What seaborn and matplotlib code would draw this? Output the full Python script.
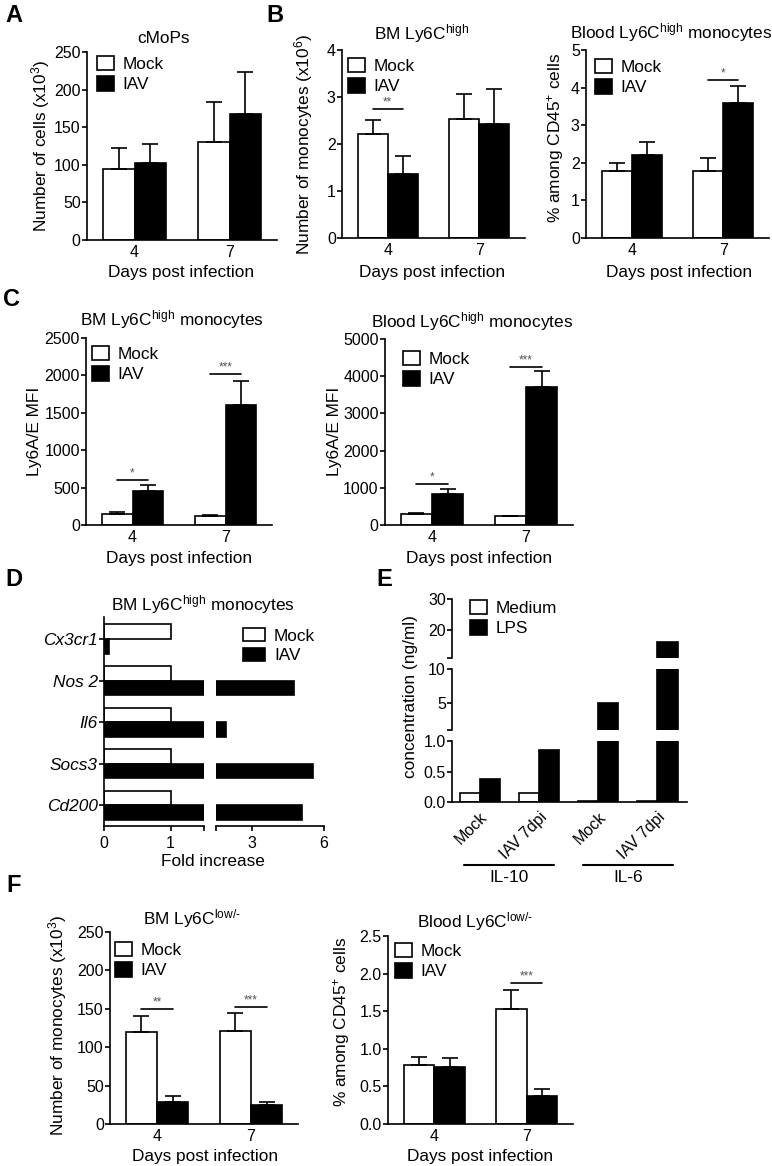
import numpy as np
import pandas as pd
import seaborn as sns
import matplotlib.pyplot as plt
import matplotlib.transforms as mtransforms
from matplotlib.patches import Patch

# ---- values ----
days = ['4', '7']

# A: cMoPs, number of cells (x10^3)
a_mock = [95, 130]
a_mock_sem = [27, 53]
a_iav = [103, 168]
a_iav_sem = [25, 56]

# B: BM Ly6C high (x10^6) / blood Ly6C high (% of CD45+)
b1_mock = [2.22, 2.53]
b1_mock_sem = [0.30, 0.54]
b1_iav = [1.37, 2.42]
b1_iav_sem = [0.38, 0.76]
b2_mock = [1.78, 1.77]
b2_mock_sem = [0.22, 0.35]
b2_iav = [2.22, 3.60]
b2_iav_sem = [0.33, 0.45]

# C: Ly6A/E MFI
c1_mock = [145, 125]
c1_mock_sem = [30, 8]
c1_iav = [455, 1610]
c1_iav_sem = [80, 310]
c2_mock = [290, 230]
c2_mock_sem = [40, 25]
c2_iav = [820, 3700]
c2_iav_sem = [150, 450]

# D: fold increase in BM Ly6C high monocytes
genes = ['Cx3cr1', 'Nos 2', 'Il6', 'Socs3', 'Cd200']
d_mock = [1, 1, 1, 1, 1]
d_iav = [0.07, 4.75, 1.92, 5.54, 5.1]

# E: cytokine concentration (ng/ml)
e_cyto = ['IL-10', 'IL-10', 'IL-6', 'IL-6']
e_cond = ['Mock', 'IAV 7dpi', 'Mock', 'IAV 7dpi']
e_medium = [0.15, 0.15, 0.02, 0.02]
e_lps = [0.37, 0.85, 5.0, 16.0]

# F: Ly6C low/- monocytes
f1_mock = [120, 121]
f1_mock_sem = [21, 24]
f1_iav = [29, 25]
f1_iav_sem = [7, 3]
f2_mock = [0.78, 1.53]
f2_mock_sem = [0.11, 0.25]
f2_iav = [0.76, 0.37]
f2_iav_sem = [0.12, 0.10]

# ---- style ----
sns.set_style('ticks')
plt.rcParams['font.family'] = ['Liberation Sans', 'DejaVu Sans']
plt.rcParams.update({
    'mathtext.fontset': 'custom', 'mathtext.rm': 'Liberation Sans',
    'mathtext.it': 'Liberation Sans:italic', 'mathtext.bf': 'Liberation Sans:bold',
    'axes.linewidth': 1.2, 'axes.edgecolor': 'black', 'text.color': 'black',
    'xtick.color': 'black', 'ytick.color': 'black',
    'xtick.major.width': 1.2, 'ytick.major.width': 1.2,
    'xtick.major.size': 3.5, 'ytick.major.size': 3.5,
    'xtick.labelsize': 11.5, 'ytick.labelsize': 11.5,
    'ytick.major.pad': 1.0, 'xtick.major.pad': 3.5,
})
FS = 12.4

W, H = 772, 1166
fig = plt.figure(figsize=(W / 100, H / 100), dpi=100)
pal = {'Mock': 'white', 'IAV': 'black'}


def add_ax(l, t, r, b):
    return fig.add_axes([l / W, 1 - b / H, (r - l) / W, (b - t) / H])


def ftext(x, y, s, **kw):
    kw.setdefault('ha', 'center')
    kw.setdefault('va', 'center')
    kw.setdefault('fontsize', FS)
    fig.text(x / W, 1 - y / H, s, **kw)


def legend(labels, colors, x, y, hl=1.0, hh=0.9):
    handles = [Patch(facecolor=c, edgecolor='black', linewidth=1.2) for c in colors]
    fig.legend(handles, labels, loc='upper left', bbox_to_anchor=(x / W, 1 - y / H),
               frameon=False, fontsize=FS, handlelength=hl, handleheight=hh,
               handletextpad=0.5, labelspacing=0.25, borderpad=0, borderaxespad=0)


def day_bars(ax, mock, mock_sem, iav, iav_sem, ymax, step):
    df = pd.DataFrame({'day': days * 2, 'group': ['Mock'] * 2 + ['IAV'] * 2,
                       'value': mock + iav, 'sem': mock_sem + iav_sem})
    sns.barplot(data=df, x='day', y='value', hue='group', palette=pal, width=0.66,
                gap=0, edgecolor='black', linewidth=1.2, legend=False, ax=ax)
    centers = {}
    bars = list(ax.containers)[:2]
    for cont, g in zip(bars, ['Mock', 'IAV']):
        sems = df.loc[df.group == g, 'sem'].values
        for rect, d, s in zip(cont.patches, days, sems):
            cx = rect.get_x() + rect.get_width() / 2
            centers[(g, d)] = cx
            ax.errorbar(cx, rect.get_height(), yerr=[[0], [s]], fmt='none', ecolor='black',
                        elinewidth=1.2, capsize=6, capthick=1.2)
    ax.set_ylim(0, ymax)
    ax.set_yticks(np.arange(0, ymax + step / 2, step))
    ax.set_xlim(-0.5, 1.5)
    ax.set_xlabel('')
    ax.set_ylabel('')
    ax.tick_params(axis='x', length=0)
    sns.despine(ax=ax)
    return centers


def sig(ax, centers, day, y, stars):
    x1, x2 = centers[('Mock', day)], centers[('IAV', day)]
    ax.plot([x1, x2], [y, y], color='black', lw=1.2, clip_on=False)
    ax.annotate(stars, ((x1 + x2) / 2, y), xytext=(0, 0.5), textcoords='offset points',
                ha='center', va='bottom', fontsize=8.5, color='#555555')


# ---- A ----
ax = add_ax(87, 52, 277, 240)
day_bars(ax, a_mock, a_mock_sem, a_iav, a_iav_sem, 250, 50)
legend(['Mock', 'IAV'], ['white', 'black'], 97, 56)
ftext(163, 43, 'cMoPs', va='baseline')
ftext(41, 146, r'Number of cells (x10$^{3}$)', rotation=90)
ftext(181, 273, 'Days post infection')

# ---- B ----
ax = add_ax(342, 50, 525, 238)
cen = day_bars(ax, b1_mock, b1_mock_sem, b1_iav, b1_iav_sem, 4, 1)
sig(ax, cen, '4', 2.75, '**')
legend(['Mock', 'IAV'], ['white', 'black'], 348, 58)
ftext(422, 39, r'BM Ly6C$^{\mathrm{high}}$', va='baseline')
ftext(304, 144, r'Number of monocytes (x10$^{6}$)', rotation=90)
ftext(432, 273, 'Days post infection')

ax = add_ax(586, 50, 769, 238)
cen = day_bars(ax, b2_mock, b2_mock_sem, b2_iav, b2_iav_sem, 5, 1)
sig(ax, cen, '7', 4.2, '*')
legend(['Mock', 'IAV'], ['white', 'black'], 595, 59)
ftext(671, 38, r'Blood Ly6C$^{\mathrm{high}}$ monocytes', va='baseline')
ftext(555, 138, r'% among CD45$^{+}$ cells', rotation=90)
ftext(679, 273, 'Days post infection')

# ---- C ----
ax = add_ax(86, 338, 272, 525)
cen = day_bars(ax, c1_mock, c1_mock_sem, c1_iav, c1_iav_sem, 2500, 500)
sig(ax, cen, '4', 600, '*')
sig(ax, cen, '7', 2020, '***')
legend(['Mock', 'IAV'], ['white', 'black'], 92, 346)
ftext(172, 325, r'BM Ly6C$^{\mathrm{high}}$ monocytes', va='baseline')
ftext(34, 431, 'Ly6A/E MFI', rotation=90)
ftext(179, 558, 'Days post infection')

ax = add_ax(385, 339, 573, 525)
cen = day_bars(ax, c2_mock, c2_mock_sem, c2_iav, c2_iav_sem, 5000, 1000)
sig(ax, cen, '4', 1100, '*')
sig(ax, cen, '7', 4250, '***')
legend(['Mock', 'IAV'], ['white', 'black'], 403, 351)
ftext(472, 327, r'Blood Ly6C$^{\mathrm{high}}$ monocytes', va='baseline')
ftext(334, 431, 'Ly6A/E MFI', rotation=90)
ftext(479, 558, 'Days post infection')

# ---- D (broken x axis) ----
d1 = add_ax(104, 617, 204, 826)
d2 = add_ax(216, 617, 324, 826)
ddf = pd.DataFrame({'gene': genes * 2, 'group': ['Mock'] * 5 + ['IAV'] * 5,
                    'value': d_mock + d_iav})
for ax in (d1, d2):
    sns.barplot(data=ddf, x='value', y='gene', hue='group', orient='h', palette=pal,
                width=0.7, gap=0, edgecolor='black', linewidth=1.2, legend=False, ax=ax)
    ax.set_ylim(4.5, -0.53)
    ax.set_xlabel('')
    ax.set_ylabel('')
d1.set_xlim(0, 1.5)
d1.set_xticks([0, 1, 1.5], ['0', '1', ''])
d2.set_xlim(1.5, 6)
d2.set_xticks([1.5, 3, 6], ['', '3', '6'])
for lbl in d1.get_yticklabels():
    lbl.set_fontstyle('italic')
    lbl.set_fontsize(FS)
d2.tick_params(axis='y', left=False, labelleft=False)
sns.despine(ax=d1)
sns.despine(ax=d2, left=True)
legend(['Mock', 'IAV'], ['white', 'black'], 243, 628, hl=1.3, hh=0.8)
ftext(203, 610, r'BM Ly6C$^{\mathrm{high}}$ monocytes', va='baseline')
ftext(213, 861, 'Fold increase')

# ---- E (broken y axis) ----
edf = pd.DataFrame({'sample': [f'{c} {k}' for c, k in zip(e_cyto, e_cond)] * 2,
                    'stim': ['Medium'] * 4 + ['LPS'] * 4,
                    'value': e_medium + e_lps})
e_top = add_ax(452, 599, 687, 658)
e_mid = add_ax(452, 669, 687, 730)
e_bot = add_ax(452, 741, 687, 802)
segments = [(e_top, (11, 30), [11, 20, 30], ['', '20', '30']),
            (e_mid, (1, 10), [1, 5, 10], ['', '5', '10']),
            (e_bot, (0, 1), [0, 0.5, 1], ['0.0', '0.5', '1.0'])]
for ax, lim, ticks, labels in segments:
    sns.barplot(data=edf, x='sample', y='value', hue='stim',
                palette={'Medium': 'white', 'LPS': 'black'}, width=0.68, gap=0,
                edgecolor='black', linewidth=1.2, legend=False, ax=ax)
    ax.set_ylim(*lim)
    ax.set_yticks(ticks, labels)
    ax.set_xlim(-0.47, 3.5)
    ax.set_xlabel('')
    ax.set_ylabel('')
for ax in (e_top, e_mid):
    ax.tick_params(axis='x', bottom=False, labelbottom=False)
    sns.despine(ax=ax, bottom=True)
sns.despine(ax=e_bot)
e_bot.set_xticks(range(len(e_cond)), e_cond, rotation=45, ha='right',
                 rotation_mode='anchor')
e_bot.tick_params(axis='x', length=0, labelsize=11.5, pad=5)
trans = mtransforms.blended_transform_factory(e_bot.transData, fig.transFigure)
for name in ['IL-10', 'IL-6']:
    idx = [i for i, c in enumerate(e_cyto) if c == name]
    x0, x1 = idx[0] - 0.26, idx[-1] + 0.26
    e_bot.plot([x0, x1], [1 - 865 / H] * 2, transform=trans, color='black', lw=1.5,
               clip_on=False)
    e_bot.text((x0 + x1) / 2, 1 - 878 / H, name, transform=trans, ha='center',
               va='center', fontsize=FS)
legend(['Medium', 'LPS'], ['white', 'black'], 470, 600)
ftext(410, 697, 'concentration (ng/ml)', rotation=90)

# ---- F ----
ax = add_ax(110, 932, 298, 1124)
cen = day_bars(ax, f1_mock, f1_mock_sem, f1_iav, f1_iav_sem, 250, 50)
sig(ax, cen, '4', 150, '**')
sig(ax, cen, '7', 152, '***')
legend(['Mock', 'IAV'], ['white', 'black'], 115, 942)
ftext(192, 924, r'BM Ly6C$^{\text{low/-}}$', va='baseline')
ftext(58, 1025, r'Number of monocytes (x10$^{3}$)', rotation=90)
ftext(205, 1157, 'Days post infection')

ax = add_ax(388, 936, 573, 1124)
cen = day_bars(ax, f2_mock, f2_mock_sem, f2_iav, f2_iav_sem, 2.5, 0.5)
sig(ax, cen, '7', 1.87, '***')
legend(['Mock', 'IAV'], ['white', 'black'], 395, 943)
ftext(475, 927, r'Blood Ly6C$^{\text{low/-}}$', va='baseline')
ftext(342, 1022, r'% among CD45$^{+}$ cells', rotation=90)
ftext(480, 1156, 'Days post infection')

# ---- panel letters ----
for letter, x, y in [('A', 14, 16), ('B', 275, 15), ('C', 11, 299), ('D', 14, 580),
                     ('E', 384, 580), ('F', 14, 886)]:
    ftext(x, y, letter, fontsize=17, fontweight='bold')

fig.savefig('out.png', dpi=100)
